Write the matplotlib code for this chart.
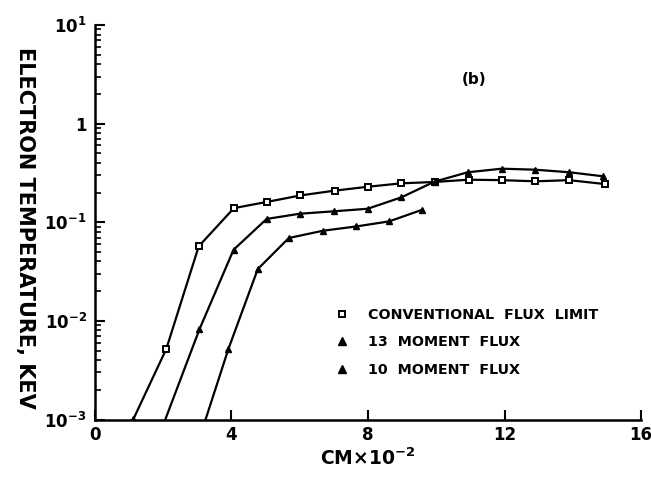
import matplotlib
matplotlib.use("Agg")
import matplotlib.pyplot as plt
from matplotlib.lines import Line2D
from matplotlib.ticker import FixedLocator, FixedFormatter, LogLocator, NullFormatter

# ---- data ----
conv_x = [1.12, 2.09, 3.04, 4.07, 5.05, 6.02, 7.02, 8.0, 8.97, 9.95, 10.95, 11.92, 12.9, 13.9, 14.93]
conv_y = [0.001, 0.0052, 0.057, 0.139, 0.161, 0.187, 0.209, 0.229, 0.248, 0.256, 0.27, 0.267, 0.26, 0.267, 0.244]

m13_x = [2.06, 3.06, 4.06, 5.03, 6.0, 6.99, 7.99, 8.98, 9.95, 10.92, 11.92, 12.9, 13.9, 14.9]
m13_y = [0.001, 0.0082, 0.0526, 0.108, 0.122, 0.129, 0.137, 0.179, 0.258, 0.321, 0.349, 0.341, 0.321, 0.292]

m10_x = [3.24, 3.91, 4.77, 5.68, 6.68, 7.65, 8.62, 9.59]
m10_y = [0.001, 0.0052, 0.0335, 0.0692, 0.082, 0.0906, 0.102, 0.134]

labels = ["CONVENTIONAL  FLUX  LIMIT", "13  MOMENT  FLUX", "10  MOMENT  FLUX"]
xticks = [0, 4, 8, 12, 16]
xticklabels = ["0", "4", "8", "12", "16"]
yticks = [1e-3, 1e-2, 1e-1, 1, 10]
yticklabels = ["$10^{-3}$", "$10^{-2}$", "$10^{-1}$", "1", "$10^{1}$"]

plt.rcParams["font.family"] = ["DejaVu Sans"]
plt.rcParams["font.weight"] = "bold"
plt.rcParams["mathtext.default"] = "bf"

fig = plt.figure(figsize=(6.51, 4.80), dpi=100)
ax = fig.add_axes([0.1459, 0.126, 0.8388, 0.822])

lw = 1.6
ax.plot(conv_x, conv_y, color="black", lw=lw, marker="s", ms=5, mfc="white",
        mec="black", mew=1.4, markevery=list(range(1, len(conv_x))))
ax.plot(m13_x, m13_y, color="black", lw=lw, marker="^", ms=5, mfc="black",
        mec="black", markevery=list(range(1, len(m13_x))))
ax.plot(m10_x, m10_y, color="black", lw=lw, marker="^", ms=5, mfc="black",
        mec="black", markevery=list(range(1, len(m10_x))))
# first conventional point sits on the axis as a dark blob
ax.plot(conv_x[:1], conv_y[:1], linestyle="none", marker="^", ms=6, color="black")

ax.set_yscale("log")
ax.set_xlim(0, 16)
ax.set_ylim(1e-3, 10)

for s in ["top", "right"]:
    ax.spines[s].set_visible(False)
for s in ["left", "bottom"]:
    ax.spines[s].set_linewidth(1.8)

ax.xaxis.set_major_locator(FixedLocator(xticks))
ax.xaxis.set_major_formatter(FixedFormatter(xticklabels))
ax.yaxis.set_major_locator(FixedLocator(yticks))
ax.yaxis.set_major_formatter(FixedFormatter(yticklabels))
ax.yaxis.set_minor_locator(LogLocator(base=10, subs=range(2, 10), numticks=20))
ax.yaxis.set_minor_formatter(NullFormatter())

ax.tick_params(axis="both", which="major", direction="in", length=7, width=1.5,
               labelsize=12, pad=6)
ax.tick_params(axis="y", which="minor", direction="in", length=4, width=1.2)
ax.tick_params(axis="x", which="major", pad=5)

ax.set_xlabel("CM$\\times$10$^{-2}$", fontsize=13.5, fontweight="bold", labelpad=2)
fig.text(25 / 651, 0.526, "ELECTRON TEMPERATURE, KEV", rotation=-90,
         ha="center", va="center", fontsize=15, fontweight="bold")

fig.text(0.728, 0.835, "(b)", ha="center", va="center", fontsize=11, fontweight="bold")

handles = [
    Line2D([], [], linestyle="none", marker="s", ms=5, mfc="white", mec="black", mew=1.4),
    Line2D([], [], linestyle="none", marker="^", ms=5.5, color="black"),
    Line2D([], [], linestyle="none", marker="^", ms=5.5, color="black"),
]
ax.legend(handles, labels, loc="upper left", bbox_to_anchor=(322 / 651, 1 - 295 / 480),
          bbox_transform=fig.transFigure, frameon=False, handlelength=1.0,
          handletextpad=1.3, labelspacing=0.95,
          prop={"size": 10.3, "weight": "bold"})

fig.savefig("out.png", dpi=100)
